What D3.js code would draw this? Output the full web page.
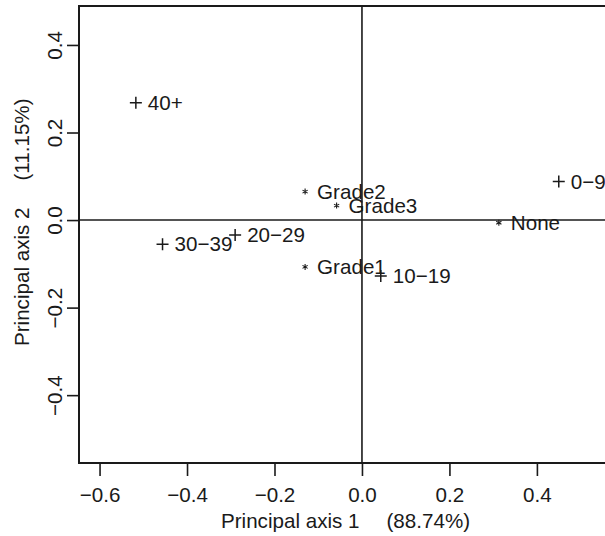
<!DOCTYPE html>
<html>
<head>
<meta charset="utf-8">
<script src="https://cdn.jsdelivr.net/npm/d3@7"></script>
<style>
  body { margin: 0; background: #fff; }
  text { font-family: "Liberation Sans", Arial, Helvetica, sans-serif; fill: #1a1a1a; }
</style>
</head>
<body>
<svg id="chart"></svg>
<script>
// correspondence analysis coordinates
const ageLabels = ["0−9", "10−19", "20−29", "30−39", "40+"];
const ageX = [0.450, 0.043, -0.290, -0.456, -0.517];
const ageY = [0.088, -0.128, -0.034, -0.055, 0.268];

const gradeLabels = ["None", "Grade1", "Grade2", "Grade3"];
const gradeX = [0.313, -0.130, -0.130, -0.058];
const gradeY = [-0.006, -0.107, 0.065, 0.033];

const xTicks = [-0.6, -0.4, -0.2, 0.0, 0.2, 0.4];
const yTicks = [-0.4, -0.2, 0.0, 0.2, 0.4];
const xTitle = ["Principal axis 1", "(88.74%)"];
const yTitle = ["Principal axis 2", "(11.15%)"];

const width = 605, height = 536;
const plot = {left: 79, right: 613, top: 6, bottom: 463};
const ink = "#1a1a1a";
const fs = 20.6;

const svg = d3.select("#chart")
    .attr("width", width)
    .attr("height", height);

const x = d3.scaleLinear()
    .domain([-0.647, 0.574])
    .range([plot.left, plot.right]);
const y = d3.scaleLinear()
    .domain([-0.555, 0.489])
    .range([plot.bottom, plot.top]);

const fmt = d3.format(".1f");

// box (its right side falls outside the window)
svg.append("rect")
    .attr("x", plot.left)
    .attr("y", plot.top)
    .attr("width", plot.right - plot.left)
    .attr("height", plot.bottom - plot.top)
    .attr("fill", "none")
    .attr("stroke", ink)
    .attr("stroke-width", 2);

// zero lines
svg.append("line")
    .attr("x1", plot.left).attr("x2", plot.right)
    .attr("y1", y(0)).attr("y2", y(0))
    .attr("stroke", ink).attr("stroke-width", 1.6);
svg.append("line")
    .attr("x1", x(0)).attr("x2", x(0))
    .attr("y1", plot.top).attr("y2", plot.bottom)
    .attr("stroke", ink).attr("stroke-width", 1.6);

// axes
const xAxis = svg.append("g")
    .attr("transform", `translate(0, ${plot.bottom})`)
    .call(d3.axisBottom(x).tickValues(xTicks).tickFormat(fmt).tickSize(13));
xAxis.select(".domain").remove();
xAxis.selectAll("line").attr("stroke", ink).attr("stroke-width", 1.6);
xAxis.selectAll("text")
    .attr("font-size", fs)
    .attr("font-family", null)
    .attr("fill", ink)
    .attr("dy", null)
    .attr("y", 39);

const yAxis = svg.append("g")
    .attr("transform", `translate(${plot.left}, 0)`)
    .call(d3.axisLeft(y).tickValues(yTicks).tickFormat(fmt).tickSize(12));
yAxis.select(".domain").remove();
yAxis.selectAll("line").attr("stroke", ink).attr("stroke-width", 1.6);
yAxis.selectAll("text")
    .attr("font-size", fs)
    .attr("font-family", null)
    .attr("fill", ink)
    .attr("x", null)
    .attr("dy", null)
    .attr("text-anchor", "middle")
    .attr("transform", "translate(-17, 0) rotate(-90)");

// axis titles
const xt = svg.append("text")
    .attr("x", 221)
    .attr("y", 528)
    .attr("font-size", fs)
    .text(xTitle[0]);
xt.append("tspan").attr("dx", 27).text(xTitle[1]);

const yt = svg.append("text")
    .attr("transform", "translate(29, 346) rotate(-90)")
    .attr("font-size", fs)
    .text(yTitle[0]);
yt.append("tspan").attr("dx", 27).text(yTitle[1]);

// points
const ages = ageLabels.map((d, i) => ({label: d, x: ageX[i], y: ageY[i]}));
const grades = gradeLabels.map((d, i) => ({label: d, x: gradeX[i], y: gradeY[i]}));

const marks = svg.append("g");

marks.selectAll("path.plus")
    .data(ages)
    .join("path")
    .attr("class", "plus")
    .attr("d", "M-6,0H6M0,-6V6")
    .attr("transform", d => `translate(${x(d.x)}, ${y(d.y)})`)
    .attr("stroke", ink)
    .attr("stroke-width", 1.5)
    .attr("fill", "none");

marks.selectAll("path.star")
    .data(grades)
    .join("path")
    .attr("class", "star")
    .attr("d", "M0,-3V3M-2.6,-1.5L2.6,1.5M-2.6,1.5L2.6,-1.5")
    .attr("transform", d => `translate(${x(d.x)}, ${y(d.y)})`)
    .attr("stroke", ink)
    .attr("stroke-width", 1.1)
    .attr("fill", "none");

marks.selectAll("text.lab")
    .data(ages.concat(grades))
    .join("text")
    .attr("class", "lab")
    .attr("x", d => x(d.x) + 12)
    .attr("y", d => y(d.y))
    .attr("dy", "0.35em")
    .attr("font-size", fs)
    .text(d => d.label);
</script>
</body>
</html>
